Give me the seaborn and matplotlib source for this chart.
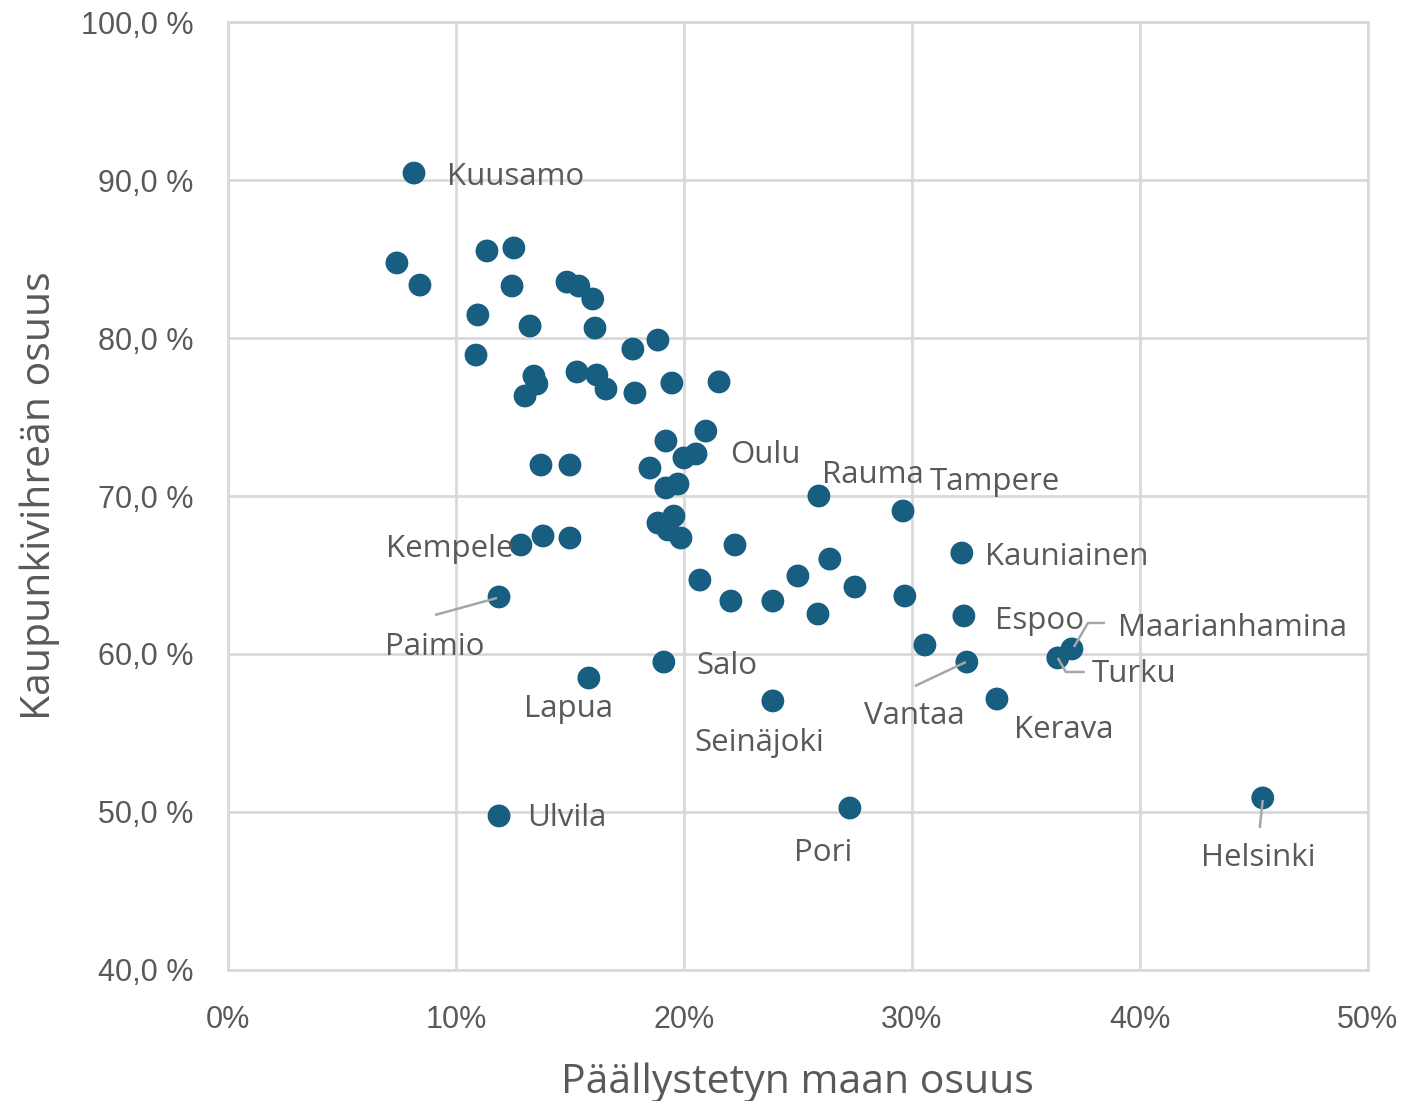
import numpy as np
import pandas as pd
import matplotlib
matplotlib.use("Agg")
import matplotlib.pyplot as plt
import seaborn as sns
from matplotlib.ticker import FuncFormatter

# Share of paved land (%) and share of urban green (%) per municipality
paved_share = [
    8.16, 7.41, 8.42, 11.36, 12.54, 10.96, 12.46, 10.88, 13.25, 14.87,
    15.39, 16.00, 16.10, 13.42, 13.55, 13.03, 15.31, 16.18, 16.58, 17.76,
    18.86, 17.85, 19.47, 21.54, 13.73, 15.00, 19.21, 20.96, 20.53, 20.00,
    18.51, 19.21, 19.74, 18.86, 19.56, 19.30, 19.87, 12.85, 13.82, 15.00,
    22.24, 20.70, 22.06, 23.90, 25.00, 26.40, 25.88, 27.50, 25.92, 29.61,
    29.69, 32.19, 32.28, 30.57, 32.41, 33.73, 36.40, 37.02, 45.39, 27.28,
    23.90, 19.12, 15.83, 11.89, 11.89,
]
green_share = [
    90.44, 84.75, 83.35, 85.51, 85.70, 81.46, 83.29, 78.92, 80.76, 83.54,
    83.29, 82.47, 80.63, 77.59, 77.09, 76.33, 77.85, 77.66, 76.77, 79.30,
    79.87, 76.52, 77.15, 77.22, 71.96, 71.96, 73.48, 74.11, 72.66, 72.41,
    71.77, 70.51, 70.76, 68.29, 68.73, 67.85, 67.34, 66.90, 67.47, 67.34,
    66.90, 64.68, 63.35, 63.35, 64.94, 66.01, 62.53, 64.24, 70.00, 69.05,
    63.67, 66.39, 62.41, 60.57, 59.49, 57.15, 59.75, 60.32, 50.89, 50.25,
    57.03, 59.49, 58.48, 63.61, 49.75,
]
municipality = [
    "Kuusamo", "", "", "", "", "", "", "", "", "",
    "", "", "", "", "", "", "", "", "", "",
    "", "", "", "", "", "", "", "", "Oulu", "",
    "", "", "", "", "", "", "", "Kempele", "", "",
    "", "", "", "", "", "", "", "", "Rauma", "Tampere",
    "", "Kauniainen", "Espoo", "", "Vantaa", "Kerava", "Turku", "Maarianhamina", "Helsinki", "Pori",
    "Seinäjoki", "Salo", "Lapua", "Paimio", "Ulvila",
]

df = pd.DataFrame({"paved": paved_share, "green": green_share, "name": municipality})

# label placement: (dx, dy) in pixels from the marker, horizontal alignment
label_style = {
    "Kuusamo": (33, -4, "left"),
    "Oulu": (34, -1, "left"),
    "Rauma": (3, 21, "left"),
    "Tampere": (27, 29, "left"),
    "Kempele": (-7, -4, "right"),
    "Kauniainen": (23, -4, "left"),
    "Espoo": (31, -5, "left"),
    "Maarianhamina": (46, 21, "left"),
    "Paimio": (-64, -50, "center"),
    "Salo": (33, -4, "left"),
    "Turku": (34, -16, "left"),
    "Lapua": (-20, -31, "center"),
    "Vantaa": (-53, -54, "center"),
    "Kerava": (67, -31, "center"),
    "Seinäjoki": (-14, -42, "center"),
    "Ulvila": (28, -2, "left"),
    "Pori": (-27, -45, "center"),
    "Helsinki": (-5, -60, "center"),
}
# leader lines as pixel offsets from the marker
leaders = {
    "Paimio": [(-2, -1), (-64, -18)],
    "Vantaa": [(-1, 0), (-52, -24)],
    "Maarianhamina": [(2, 2), (16, 26), (33, 26)],
    "Turku": [(0, 0), (8, -14), (27, -14)],
    "Helsinki": [(0, -2), (-3, -30)],
}

sns.set_theme(style="white")
plt.rcParams["font.family"] = ["Open Sans", "DejaVu Sans"]

fig = plt.figure(figsize=(14.16, 11.01), dpi=100)
ax = fig.add_axes([0.161, 0.119, 0.805, 0.861])

grid_c = "#d9d9d9"
text_c = "#595959"
dot_c = "#175e80"

sns.scatterplot(data=df, x="paved", y="green", ax=ax, s=270, color=dot_c,
                edgecolor="none", linewidth=0, zorder=3, legend=False)

ax.set_xlim(0, 50)
ax.set_ylim(40, 100)
ax.set_xticks(np.arange(0, 51, 10))
ax.set_yticks(np.arange(40, 101, 10))
ax.grid(True, color=grid_c, linewidth=2.0, zorder=0)
ax.set_axisbelow(True)
for sp in ax.spines.values():
    sp.set_color(grid_c)
    sp.set_linewidth(2.0)

ax.xaxis.set_major_formatter(FuncFormatter(lambda v, p: f"{v:.0f}%"))
ax.yaxis.set_major_formatter(FuncFormatter(lambda v, p: f"{v:.1f}".replace(".", ",") + " %"))
ax.tick_params(axis="both", length=0, pad=25, labelsize=22, labelcolor=text_c)
for lab in ax.get_xticklabels() + ax.get_yticklabels():
    lab.set_family(["Liberation Sans", "DejaVu Sans"])

ax.set_xlabel("Päällystetyn maan osuus", fontsize=29.5, color=text_c, labelpad=20)
ax.set_ylabel("Kaupunkivihreän osuus", fontsize=29.5, color=text_c, labelpad=15)

fig.canvas.draw()
to_disp = ax.transData
to_data = ax.transData.inverted()

for _, row in df[df["name"] != ""].iterrows():
    dx, dy, ha = label_style[row["name"]]
    ax.annotate(row["name"], (row["paved"], row["green"]), xytext=(dx, dy),
                textcoords="offset pixels", ha=ha, va="center",
                fontsize=22.5, color=text_c, zorder=5)
    if row["name"] in leaders:
        base = to_disp.transform((row["paved"], row["green"]))
        pts = to_data.transform([(base[0] + ox, base[1] + oy) for ox, oy in leaders[row["name"]]])
        ax.plot(pts[:, 0], pts[:, 1], color="#a6a6a6", linewidth=1.8, zorder=4,
                solid_capstyle="butt")

fig.savefig("out.png", dpi=100)
